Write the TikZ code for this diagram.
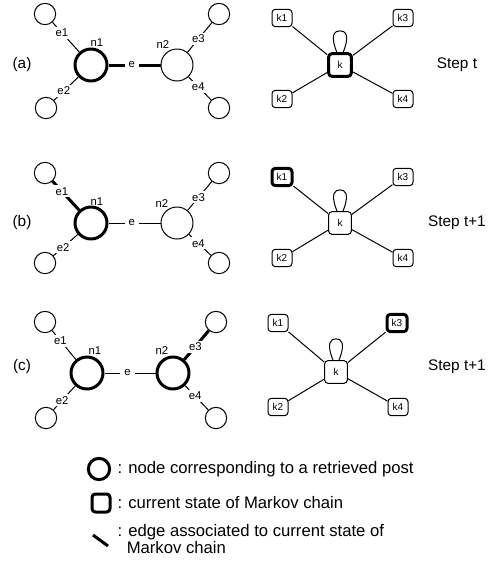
\documentclass[tikz,border=0pt]{standalone}
\usepackage{fontspec}
\setmainfont{Liberation Sans}
\usetikzlibrary{positioning}

\begin{document}
\begin{tikzpicture}[x=0.75pt,y=-0.75pt,line join=round,line width=0.75pt]
	\tikzset{post/.style={circle,draw,minimum size=24pt,inner sep=0pt},
		leaf/.style={circle,draw,minimum size=16pt,inner sep=0pt},
		kbox/.style={draw,rounded corners=2.5pt,minimum width=15pt,minimum height=13pt,inner sep=0pt,font=\fontsize{7.5}{8}\selectfont},
		kmid/.style={kbox,minimum width=17pt,minimum height=17pt},
		lbl/.style={fill=white,inner xsep=3pt,inner ysep=1.5pt,font=\fontsize{8.5}{9}\selectfont},
		tag/.style={inner sep=0pt,font=\fontsize{8.5}{9}\selectfont},
		cur/.style={line width=2.25pt},
		big/.style={inner sep=0pt,font=\fontsize{11.5}{13}\selectfont},
		legtxt/.style={inner sep=0pt,anchor=west,align=left,font=\fontsize{12.5}{13}\selectfont}}
	\useasboundingbox (0,0) rectangle (488,565);
	% (a) step t
	\begin{scope}
		\node[big] (pa) at (22,65) {(a)};
		\node[post,cur] (n1a) at (91,65) {};
		\node[post] (n2a) at (177,65) {};
		\node[leaf] (l1a) at (45,14) {}; \node[leaf] (l2a) at (46,108) {};
		\node[leaf] (l3a) at (219,14) {}; \node[leaf] (l4a) at (219,108) {};
		\node[tag] (t1a) at (97,43) {n1}; \node[tag] (t2a) at (163,45) {n2};
		\draw (l1a) -- node[lbl,pos=0.35] (e1a) {e1} (n1a);
		\draw (l2a) -- node[lbl,pos=0.4] (e2a) {e2} (n1a);
		\draw (l3a) -- node[lbl,pos=0.55] (e3a) {e3} (n2a);
		\draw (l4a) -- node[lbl,pos=0.57] (e4a) {e4} (n2a);
		\draw[cur] (n1a) -- node[lbl,pos=0.45] (ea) {e} (n2a);
		\node[kmid,cur] (ka) at (340,65) {k};
		\node[kbox] (k1a) at (282,18) {k1}; \node[kbox] (k3a) at (403,18) {k3};
		\node[kbox] (k2a) at (282,99) {k2}; \node[kbox] (k4a) at (403,99) {k4};
		\draw (ka) -- (k1a) (ka) -- (k3a) (ka) -- (k2a) (ka) -- (k4a);
		\draw (ka.104) .. controls +(112:14pt) and +(-4pt,0) .. ([yshift=16pt]ka.north) .. controls +(4pt,0) and +(68:14pt) .. (ka.76);
		\node[big] (sa) at (457,65) {Step t};
	\end{scope}
	% (b) step t+1
	\begin{scope}
		\node[big] (pb) at (22,223) {(b)};
		\node[post,cur] (n1b) at (91,223) {};
		\node[post] (n2b) at (177,223) {};
		\node[leaf] (l1b) at (45,173) {}; \node[leaf] (l2b) at (45,263) {};
		\node[leaf] (l3b) at (219,173) {}; \node[leaf] (l4b) at (219,263) {};
		\node[tag] (t1b) at (97,202) {n1}; \node[tag] (t2b) at (162,204) {n2};
		\draw[cur] (l1b) -- node[lbl,pos=0.35] (e1b) {e1} (n1b);
		\draw (l2b) -- node[lbl,pos=0.4] (e2b) {e2} (n1b);
		\draw (l3b) -- node[lbl,pos=0.55] (e3b) {e3} (n2b);
		\draw (l4b) -- node[lbl,pos=0.57] (e4b) {e4} (n2b);
		\draw (n1b) -- node[lbl,pos=0.45] (eb) {e} (n2b);
		\node[kmid] (kb) at (340,223) {k};
		\node[kbox,cur] (k1b) at (282,177) {k1}; \node[kbox] (k3b) at (403,177) {k3};
		\node[kbox] (k2b) at (282,258) {k2}; \node[kbox] (k4b) at (403,258) {k4};
		\draw (kb) -- (k1b) (kb) -- (k3b) (kb) -- (k2b) (kb) -- (k4b);
		\draw (kb.104) .. controls +(112:14pt) and +(-4pt,0) .. ([yshift=16pt]kb.north) .. controls +(4pt,0) and +(68:14pt) .. (kb.76);
		\node[big] (sb) at (457,223) {Step t+1};
	\end{scope}
	% (c) step t+1
	\begin{scope}
		\node[big] (pc) at (22,367) {(c)};
		\node[post,cur] (n1c) at (87,373) {};
		\node[post,cur] (n2c) at (173,373) {};
		\node[leaf] (l1c) at (45,322) {}; \node[leaf] (l2c) at (46,418) {};
		\node[leaf] (l3c) at (216,322) {}; \node[leaf] (l4c) at (216,418) {};
		\node[tag] (t1c) at (95,351) {n1}; \node[tag] (t2c) at (162,351) {n2};
		\draw (l1c) -- node[lbl,pos=0.35] (e1c) {e1} (n1c);
		\draw (l2c) -- node[lbl,pos=0.4] (e2c) {e2} (n1c);
		\draw[cur] (l3c) -- node[lbl,pos=0.55] (e3c) {e3} (n2c);
		\draw (l4c) -- node[lbl,pos=0.57] (e4c) {e4} (n2c);
		\draw (n1c) -- node[lbl,pos=0.45] (ec) {e} (n2c);
		\node[kmid] (kc) at (336,372) {k};
		\node[kbox] (k1c) at (278,323) {k1}; \node[kbox,cur] (k3c) at (397,323) {k3};
		\node[kbox] (k2c) at (278,407) {k2}; \node[kbox] (k4c) at (398,407) {k4};
		\draw (kc) -- (k1c) (kc) -- (k3c) (kc) -- (k2c) (kc) -- (k4c);
		\draw (kc.104) .. controls +(112:14pt) and +(-4pt,0) .. ([yshift=16pt]kc.north) .. controls +(4pt,0) and +(68:14pt) .. (kc.76);
		\node[big] (sc) at (457,367) {Step t+1};
	\end{scope}
	% legend
	\node[leaf,cur,minimum size=16pt] (lgc) at (99,469) {};
	\node[kbox,cur,minimum width=13.5pt,minimum height=13.5pt] (lgs) at (101,503) {};
	\coordinate (lga) at (93,535); \coordinate (lgb) at (108,546);
	\draw[cur] (lga) -- (lgb);
	\node[legtxt] (lt1) at (117,469) {: node corresponding to a retrieved post};
	\node[legtxt] (lt2) at (117,503) {: current state of Markov chain};
	\node[legtxt] (lt3) at (117,539) {: edge associated to current state of\\\hphantom{:\ }Markov chain};
\end{tikzpicture}
\end{document}
